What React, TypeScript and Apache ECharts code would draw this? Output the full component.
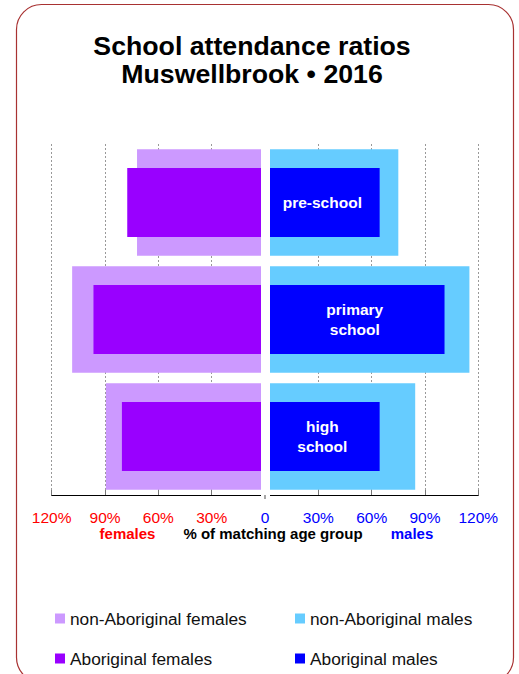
import React, { useEffect, useRef } from "react";
import * as echarts from "echarts";

const categories = ["pre-school", "primary school", "high school"];
const barLabels = ["pre-school", "primary\nschool", "high\nschool"];
const nonAbFemales = [72, 108.5, 89.5];
const abFemales = [77.5, 96.5, 80.5];
const nonAbMales = [75, 115, 84.5];
const abMales = [64.5, 101, 64.5];

const SANS = "'Liberation Sans', Arial, Helvetica, sans-serif";

export default function App() {
  const ref = useRef<HTMLDivElement>(null);
  useEffect(() => {
    if (!ref.current) return;
    const chart = echarts.init(ref.current, null, { renderer: "svg" });
    const legendItem = (name: string, left: number, top: number) => ({
      data: [name],
      left,
      top,
      padding: 0,
      itemWidth: 10,
      itemHeight: 10,
      itemGap: 0,
      icon: "rect",
      selectedMode: false,
      textStyle: { fontFamily: SANS, fontSize: 17.3, color: "#111" },
    });
    chart.setOption({
      animation: false,
      backgroundColor: "#fff",
      title: {
        text: "School attendance ratios\nMuswellbrook • 2016",
        left: 247,
        top: 27,
        textAlign: "center",
        textStyle: {
          fontFamily: SANS,
          fontWeight: "bold",
          fontSize: 26.7,
          lineHeight: 28,
          color: "#000",
        },
      },
      legend: [
        legendItem("non-Aboriginal females", 55, 610),
        legendItem("non-Aboriginal males", 295, 610),
        legendItem("Aboriginal females", 55, 650),
        legendItem("Aboriginal males", 295, 650),
      ],
      grid: { left: 51.7, right: 40.7, top: 144, bottom: 179 },
      xAxis: {
        type: "value",
        min: -120,
        max: 120,
        interval: 30,
        axisLine: { show: true, lineStyle: { color: "#000", width: 1 } },
        axisTick: { show: true, inside: true, length: 5, lineStyle: { color: "#777" } },
        splitLine: { show: true, lineStyle: { color: "#999", type: [2, 2], width: 1 } },
        axisLabel: {
          margin: 14,
          formatter: (v: number) => {
            if (v === 0) return "{b|0}";
            const t = Math.abs(v) + "%";
            return v < 0 ? "{r|" + t + "}" : "{b|" + t + "}";
          },
          rich: {
            r: { color: "#ff0000", fontFamily: SANS, fontSize: 15.5 },
            b: { color: "#0000ff", fontFamily: SANS, fontSize: 15.5 },
          },
        },
      },
      yAxis: [
        { type: "category", data: categories, inverse: true, show: false },
        { type: "category", data: categories, inverse: true, show: false },
      ],
      series: [
        {
          name: "non-Aboriginal females",
          type: "bar",
          yAxisIndex: 0,
          stack: "outer",
          barWidth: "91%",
          itemStyle: { color: "#cc99ff" },
          data: nonAbFemales.map((v) => -v),
        },
        {
          name: "non-Aboriginal males",
          type: "bar",
          yAxisIndex: 0,
          stack: "outer",
          barWidth: "91%",
          itemStyle: { color: "#66ccff" },
          data: nonAbMales,
        },
        {
          name: "Aboriginal females",
          type: "bar",
          yAxisIndex: 1,
          stack: "inner",
          barWidth: "59%",
          itemStyle: { color: "#9900ff" },
          data: abFemales.map((v) => -v),
        },
        {
          name: "Aboriginal males",
          type: "bar",
          yAxisIndex: 1,
          stack: "inner",
          barWidth: "59%",
          itemStyle: { color: "#0000ff" },
          label: {
            show: true,
            position: "inside",
            formatter: (p: any) => barLabels[p.dataIndex],
            color: "#fff",
            fontFamily: SANS,
            fontWeight: "bold",
            fontSize: 15.5,
            lineHeight: 20,
          },
          data: abMales,
        },
      ],
      graphic: [
        {
          type: "rect",
          z: 100,
          shape: { x: 261, y: 140, width: 9, height: 357 },
          style: { fill: "#fff" },
        },
        {
          type: "line",
          z: 101,
          shape: { x1: 265, y1: 495, x2: 265, y2: 499 },
          style: { stroke: "#888", lineWidth: 1.5 },
        },
        {
          type: "text",
          z: 101,
          x: 127.5,
          y: 533,
          style: {
            text: "females",
            fill: "#ff0000",
            font: "bold 15px " + SANS,
            textAlign: "center",
            textVerticalAlign: "middle",
          },
        },
        {
          type: "text",
          z: 101,
          x: 273,
          y: 533,
          style: {
            text: "% of matching age group",
            fill: "#000",
            font: "bold 15px " + SANS,
            textAlign: "center",
            textVerticalAlign: "middle",
          },
        },
        {
          type: "text",
          z: 101,
          x: 412,
          y: 533,
          style: {
            text: "males",
            fill: "#0000ff",
            font: "bold 15px " + SANS,
            textAlign: "center",
            textVerticalAlign: "middle",
          },
        },
        {
          type: "rect",
          z: 0,
          shape: { x: 16.5, y: 4.5, width: 497, height: 678, r: 25 },
          style: { fill: "none", stroke: "#a83232", lineWidth: 1.2 },
        },
      ],
    });
    return () => chart.dispose();
  }, []);
  return (
    <div
      ref={ref}
      style={{ position: "fixed", left: 0, top: 0, width: 519, height: 674 }}
    />
  );
}
